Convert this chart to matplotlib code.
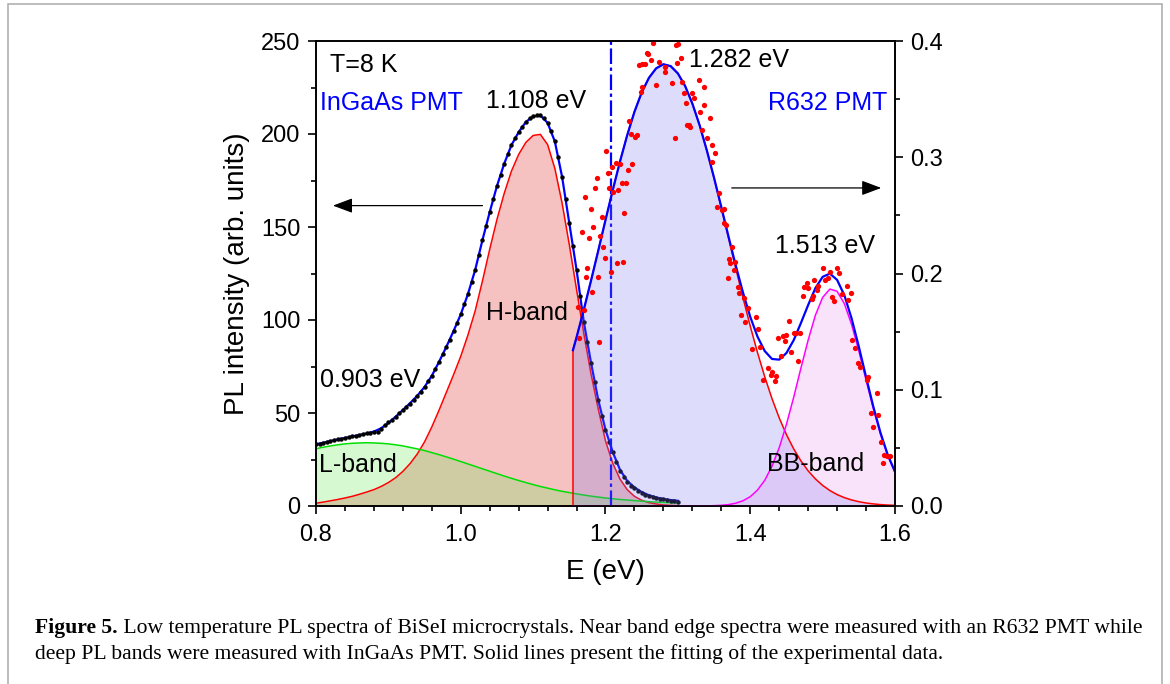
import numpy as np
import matplotlib
matplotlib.use("Agg")
import matplotlib.pyplot as plt
from matplotlib.patches import Rectangle

plt.rcParams['font.family'] = ['Liberation Sans', 'DejaVu Sans']

# ---- InGaAs PMT data (left axis), measured points every 5 meV ----
e_ingaas = np.round(np.arange(800, 1301, 5) / 1000, 3)
pl_ingaas = [33.2, 33.5, 34.0, 34.5, 35.0, 35.4, 35.8, 36.2, 36.7, 37.0,
             37.5, 37.8, 38.2, 38.6, 39.0, 39.3, 39.6, 40.0, 41.5, 43.5,
             45.0, 46.5, 48.0, 50.0, 51.5, 53.0, 55.0, 57.0, 59.0, 61.5,
             64.0, 67.0, 70.0, 73.5, 77.5, 81.5, 85.5, 89.5, 94.0, 98.5,
             103.0, 108.5, 114.0, 120.5, 127.0, 135.0, 143.0, 150.5, 158.0, 165.0,
             172.0, 178.0, 184.0, 189.5, 194.0, 198.0, 201.0, 204.0, 206.5, 208.5,
             209.5, 210.2, 210.0, 208.5, 206.0, 201.5, 196.0, 187.5, 177.0, 165.0,
             152.0, 140.0, 127.0, 113.0, 99.0, 88.0, 77.0, 66.5, 57.0, 48.5,
             41.0, 34.5, 29.0, 23.5, 19.0, 15.5, 13.0, 11.0, 9.5, 8.2,
             7.0, 6.0, 5.2, 4.7, 4.2, 3.8, 3.5, 3.2, 2.9, 2.6, 2.4]

# fit curves on the left axis, every 10 meV
e_left = np.round(np.arange(80, 131) / 100, 2)
fit_left = [33.2, 34.0, 34.9, 35.8, 36.6, 37.4, 38.2, 39.0, 40.0, 41.8,
            44.6, 48.0, 51.6, 55.3, 59.3, 64.0, 70.0, 77.5, 85.5, 94.0,
            103.0, 114.0, 127.0, 143.0, 158.0, 172.0, 184.0, 194.0, 201.0, 206.5,
            209.5, 210.0, 206.0, 196.0, 177.0, 152.0, 127.0, 99.0, 77.0, 57.0,
            41.0, 29.0, 19.5, 13.5, 10.0, 7.5, 5.8, 4.6, 3.8, 3.2, 2.8]
h_band = [1.5, 2.1, 2.8, 3.5, 4.3, 5.2, 6.3, 7.5, 8.8, 10.5,
          12.6, 15.2, 18.6, 22.8, 28.0, 34.5, 42.5, 51.5, 61.0, 70.5,
          80.5, 92.0, 105.0, 121.0, 138.0, 154.0, 168.0, 180.0, 189.0, 195.5,
          199.2, 199.8, 194.3, 181.5, 162.9, 140.5, 116.4, 92.7, 70.9, 52.1,
          35.0, 23.0, 14.5, 8.8, 5.2, 3.1, 1.8, 1.1, 0.6, 0.35, 0.2]
l_band = [30.8, 31.6, 32.3, 32.9, 33.4, 33.7, 33.9, 34.0, 33.9, 33.7,
          33.4, 32.9, 32.3, 31.5, 30.7, 29.8, 28.7, 27.6, 26.4, 25.2,
          23.9, 22.6, 21.3, 20.0, 18.7, 17.4, 16.1, 14.9, 13.7, 12.6,
          11.5, 10.5, 9.6, 8.7, 7.9, 7.2, 6.5, 5.9, 5.3, 4.8,
          4.3, 3.9, 3.5, 3.2, 2.9, 2.6, 2.35, 2.1, 1.9, 1.7, 1.55]

# ---- R632 PMT data (right axis) ----
e_r632 = [1.1623, 1.1637, 1.1673, 1.1701, 1.1715, 1.1737, 1.1751, 1.1774, 1.1793, 1.1811,
          1.1834, 1.1852, 1.1880, 1.1893, 1.1912, 1.1926, 1.1949, 1.1972, 1.1995, 1.2013,
          1.2036, 1.2050, 1.2073, 1.2096, 1.2110, 1.2142, 1.2165, 1.2179, 1.2197, 1.2225,
          1.2243, 1.2262, 1.2289, 1.2308, 1.2325, 1.2348, 1.2372, 1.2408, 1.2440, 1.2463,
          1.2485, 1.2499, 1.2508, 1.2545, 1.2577, 1.2591, 1.2623, 1.2660, 1.2692, 1.2738,
          1.2820, 1.2829, 1.2921, 1.2959, 1.2968, 1.2990, 1.2999, 1.3037, 1.3059, 1.3082,
          1.3106, 1.3129, 1.3151, 1.3174, 1.3197, 1.3220, 1.3289, 1.3312, 1.3335, 1.3358,
          1.3358, 1.3404, 1.3450, 1.3473, 1.3473, 1.3519, 1.3542, 1.3565, 1.3611, 1.3634,
          1.3634, 1.3666, 1.3693, 1.3703, 1.3726, 1.3748, 1.3772, 1.3794, 1.3831, 1.3850,
          1.3877, 1.3909, 1.3932, 1.3969, 1.4024, 1.4079, 1.4102, 1.4129, 1.4175, 1.4244,
          1.4281, 1.4299, 1.4336, 1.4359, 1.4382, 1.4419, 1.4446, 1.4474, 1.4492, 1.4529,
          1.4566, 1.4598, 1.4635, 1.4657, 1.4690, 1.4722, 1.4749, 1.4781, 1.4795, 1.4850,
          1.4873, 1.4887, 1.4919, 1.4933, 1.5001, 1.5034, 1.5080, 1.5103, 1.5125, 1.5158,
          1.5194, 1.5227, 1.5263, 1.5332, 1.5355, 1.5392, 1.5410, 1.5448, 1.5493, 1.5516,
          1.5608, 1.5631, 1.5668, 1.5700, 1.5745, 1.5769, 1.5806, 1.5838, 1.5851, 1.5883,
          1.5930]
pl_r632 = [0.1715, 0.1442, 0.2354, 0.1686, 0.2661, 0.1973, 0.2044, 0.2308, 0.2552, 0.1838,
           0.2397, 0.2733, 0.2824, 0.1967, 0.1413, 0.2322, 0.2489, 0.2231, 0.2130, 0.3054,
           0.2862, 0.2733, 0.2016, 0.2919, 0.2704, 0.2953, 0.2093, 0.2718, 0.2939, 0.2781,
           0.2102, 0.2518, 0.2781, 0.2890, 0.3315, 0.3197, 0.2939, 0.3177, 0.3191, 0.3794,
           0.3564, 0.3800, 0.3607, 0.3800, 0.3900, 0.3888, 0.3837, 0.3986, 0.3622, 0.3822,
           0.3773, 0.3736, 0.3636, 0.3163, 0.3966, 0.3808, 0.3975, 0.3851, 0.3650, 0.3550,
           0.3464, 0.3277, 0.3277, 0.3263, 0.3550, 0.3507, 0.3665, 0.3392, 0.3234, 0.3607,
           0.3449, 0.3168, 0.3335, 0.3105, 0.2962, 0.3034, 0.2575, 0.2690, 0.2546, 0.2432,
           0.2552, 0.2417, 0.1958, 0.2122, 0.2088, 0.2231, 0.2030, 0.2102, 0.1887, 0.1829,
           0.1643, 0.1786, 0.1586, 0.1700, 0.1348, 0.1623, 0.1520, 0.1371, 0.1084, 0.1190,
           0.1127, 0.1156, 0.1075, 0.1121, 0.1448, 0.1293, 0.1465, 0.1419, 0.1471, 0.1594,
           0.1327, 0.1491, 0.1485, 0.1250, 0.1491, 0.1806, 0.1881, 0.1921, 0.1873, 0.1778,
           0.1806, 0.1944, 0.1858, 0.1895, 0.2050, 0.1944, 0.1964, 0.2016, 0.1795, 0.1763,
           0.2050, 0.2002, 0.1824, 0.1892, 0.1772, 0.1829, 0.1428, 0.1357, 0.1227, 0.1199,
           0.1084, 0.1113, 0.0797, 0.0682, 0.0969, 0.0783, 0.0553, 0.0372, 0.0439, 0.0430,
           0.0430]

e_right = np.r_[1.155, np.arange(116, 161) / 100]
fit_right = [0.1340, 0.1451, 0.1688, 0.1939, 0.2197, 0.2460, 0.2717, 0.2963, 0.3190, 0.3391,
             0.3557, 0.3683, 0.3765, 0.3800, 0.3784, 0.3721, 0.3613, 0.3462, 0.3276, 0.3059,
             0.2823, 0.2572, 0.2317, 0.2068, 0.1835, 0.1627, 0.1457, 0.1333, 0.1265, 0.1259,
             0.1316, 0.1426, 0.1574, 0.1729, 0.1874, 0.1971, 0.1999, 0.1945, 0.1813, 0.1614,
             0.1371, 0.1110, 0.0856, 0.0629, 0.0440, 0.0295]
band_1282 = [0.1340, 0.1451, 0.1688, 0.1939, 0.2197, 0.2460, 0.2717, 0.2963, 0.3190, 0.3391,
             0.3557, 0.3683, 0.3765, 0.3800, 0.3784, 0.3721, 0.3613, 0.3462, 0.3276, 0.3059,
             0.2820, 0.2566, 0.2305, 0.2044, 0.1790, 0.1547, 0.1320, 0.1112, 0.0924, 0.0758,
             0.0614, 0.0491, 0.0388, 0.0302, 0.0233, 0.0177, 0.0133, 0.0098, 0.0072, 0.0052,
             0.0037, 0.0026, 0.0018, 0.0012, 0.0008, 0.0006]
bb_band = [0.0, 0.0, 0.0, 0.0, 0.0, 0.0, 0.0, 0.0, 0.0, 0.0,
           0.0, 0.0, 0.0, 0.0, 0.0, 0.0, 0.0, 0.0, 0.0, 0.0,
           0.0003, 0.0006, 0.0012, 0.0024, 0.0045, 0.0080, 0.0137, 0.0221, 0.0341, 0.0501,
           0.0702, 0.0935, 0.1186, 0.1427, 0.1641, 0.1794, 0.1866, 0.1847, 0.1741, 0.1562,
           0.1334, 0.1084, 0.0838, 0.0617, 0.0432, 0.0289]

split_energy = 1.207

fig = plt.figure(figsize=(11.7, 6.84), dpi=100)
ax = fig.add_axes([316 / 1170, 1 - 506 / 684, 579 / 1170, 465 / 684])
ax2 = ax.twinx()

# left axis: InGaAs bands
ax.fill_between(e_left, h_band, color=(230/255, 100/255, 100/255), alpha=0.4, lw=0)
ax.fill_between(e_left, l_band, color=(110/255, 235/255, 90/255), alpha=0.28, lw=0)
ax.plot(e_left, h_band, color='red', lw=1.1)
ax.plot(e_left, l_band, color='#00e000', lw=1.1)
ax.plot(e_left, fit_left, color='blue', lw=1.6)
ax.plot(e_ingaas, pl_ingaas, 'o', color='black', ms=3.2, mew=0)
ax.axvline(split_energy, color='blue', lw=1.6, ls=(0, (7, 1.6, 1.5, 1.6)))

# right axis: R632 bands
ax2.fill_between(e_right, band_1282, color=(120/255, 120/255, 240/255), alpha=0.25, lw=0)
ax2.fill_between(e_right, bb_band, color=(225/255, 130/255, 240/255), alpha=0.22, lw=0)
ax2.plot(e_right, band_1282, color='red', lw=1.1)
ax2.vlines(e_right[0], 0, band_1282[0], color='red', lw=1.1)
ax2.plot(e_right, bb_band, color='magenta', lw=1.1)
ax2.plot(e_right, fit_right, color='blue', lw=1.6)
ax2.plot(e_r632, pl_r632, 'o', color='red', ms=3.8, mew=0)

ax.set_xlim(0.8, 1.6)
ax.set_ylim(0, 250)
ax2.set_ylim(0, 0.4)
ax.set_xticks([0.8, 1.0, 1.2, 1.4, 1.6])
ax.set_xticks(np.arange(0.84, 1.6, 0.04), minor=True)
ax.set_yticks([0, 50, 100, 150, 200, 250])
ax.set_yticks(np.arange(25, 250, 50), minor=True)
ax2.set_yticks([0.0, 0.1, 0.2, 0.3, 0.4])
ax2.set_yticks([0.05, 0.15, 0.25, 0.35], minor=True)
ax.set_xticklabels(['0.8', '1.0', '1.2', '1.4', '1.6'])
ax2.set_yticklabels(['0.0', '0.1', '0.2', '0.3', '0.4'])

for a in (ax, ax2):
    for s in a.spines.values():
        s.set_linewidth(1.2)
ax.tick_params(axis='both', which='major', direction='out', length=6, width=1.2, labelsize=17)
ax.tick_params(axis='both', which='minor', direction='out', length=3.5, width=1.2)
ax.tick_params(axis='x', which='both', top=False, pad=7)
ax.tick_params(axis='y', which='both', right=False, pad=5)
ax2.tick_params(axis='y', which='major', direction='out', length=6, width=1.2, labelsize=17, pad=5)
ax2.tick_params(axis='y', which='minor', direction='out', length=3.5, width=1.2)

ax.set_xlabel('E (eV)', fontsize=20, labelpad=9)
ax.set_ylabel('PL intensity (arb. units)', fontsize=20, labelpad=8)

# annotations (drawn on the top axes so the fills do not tint them)
fs = 18
labels = [(0.8193, 237, 'T=8 K', 'left', 'black'),
          (0.8055, 216.5, 'InGaAs PMT', 'left', 'blue'),
          (1.0355, 217.5, '1.108 eV', 'left', 'black'),
          (1.315, 240, '1.282 eV', 'left', 'black'),
          (1.589, 216.5, 'R632 PMT', 'right', 'blue'),
          (1.4336, 140, '1.513 eV', 'left', 'black'),
          (1.0355, 104, 'H-band', 'left', 'black'),
          (0.8055, 68, '0.903 eV', 'left', 'black'),
          (0.804, 22, 'L-band', 'left', 'black'),
          (1.4226, 22.5, 'BB-band', 'left', 'black')]
for x, y, s, ha, c in labels:
    ax2.text(x, y, s, fontsize=fs, va='center', ha=ha, color=c,
             transform=ax.transData, zorder=10)

arrow = dict(arrowstyle='-|>,head_length=0.8,head_width=0.3', color='black',
             lw=0.9, mutation_scale=15, shrinkA=0, shrinkB=0)
ax.annotate('', xy=(0.8234, 161.5), xytext=(1.030, 161.5), arrowprops=arrow)
ax.annotate('', xy=(1.581, 171), xytext=(1.3744, 171), arrowprops=arrow)

# caption
serif = ['Liberation Serif', 'DejaVu Serif']
cap_size = 13
t1 = fig.text(35 / 1170, 1 - 633 / 684, 'Figure 5.', fontsize=cap_size,
              fontweight='bold', family=serif)
t2 = fig.text(0, 1 - 633 / 684,
              ' Low temperature PL spectra of BiSeI microcrystals. Near band edge spectra '
              'were measured with an R632 PMT while', fontsize=cap_size, family=serif)
t3 = fig.text(35 / 1170, 1 - 659 / 684,
              'deep PL bands were measured with InGaAs PMT. Solid lines present the fitting '
              'of the experimental data.', fontsize=cap_size, family=serif)
fig.canvas.draw()
r = fig.canvas.get_renderer()
w_total = t1.get_window_extent(r).width + t2.get_window_extent(r).width
scale = 1102 / w_total
for t in (t1, t2, t3):
    t.set_fontsize(cap_size * scale)
fig.canvas.draw()
b1 = t1.get_window_extent(r)
t2.set_x(b1.x1 / fig.bbox.width)

fig.add_artist(Rectangle((8 / 1170, -0.01), 1154 / 1170, 1 - 4 / 684 + 0.01,
                         transform=fig.transFigure, fill=False,
                         edgecolor='#b0b0b0', lw=1.2))

fig.savefig('out.png', dpi=100)
